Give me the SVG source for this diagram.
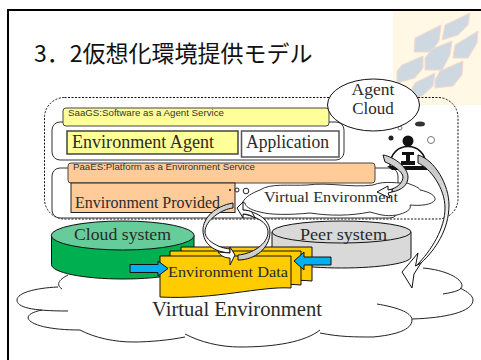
<svg xmlns="http://www.w3.org/2000/svg" width="481" height="360" viewBox="0 0 481 360">
<defs>
<filter id="soft" x="-5%" y="-5%" width="110%" height="110%"><feGaussianBlur stdDeviation="0.5"/></filter>
<linearGradient id="gr" gradientUnits="userSpaceOnUse" x1="0" y1="170" x2="0" y2="235"><stop offset="0" stop-color="#c8c8c8"/><stop offset="1" stop-color="#fff"/></linearGradient>
<linearGradient id="gl" gradientUnits="userSpaceOnUse" x1="0" y1="203" x2="0" y2="245"><stop offset="0" stop-color="#c8c8c8"/><stop offset="1" stop-color="#fff"/></linearGradient>
<linearGradient id="gb" gradientUnits="userSpaceOnUse" x1="0" y1="258" x2="0" y2="215"><stop offset="0" stop-color="#c8c8c8"/><stop offset="1" stop-color="#fff"/></linearGradient>
</defs>
<style>
.s{font-family:"Liberation Serif","DejaVu Serif",serif;fill:#2a2a2a}
.g{font-family:"Liberation Sans",Arial,sans-serif;fill:#333;font-size:9.500px}
.hex{fill:#cdd8e0;stroke:#f7d8cc;stroke-width:1}
.o{stroke:#333;stroke-width:1;fill:#fff}
.l{fill:none;stroke:#222;stroke-width:1}
.band{stroke:#111;stroke-width:1}
.head{fill:#fff;stroke:#111;stroke-width:1}
.page{fill:#ffcc00;stroke:#111;stroke-width:1}
.blue{fill:#00b0f0;stroke:#111;stroke-width:1}
</style>
<rect width="481" height="360" fill="#fff"/>
<g id="backdrop">
<rect x="393" y="10" width="88" height="95" fill="#fff8e4"/>
<g filter="url(#soft)">
<polygon class="hex" points="415,38 441,25 439,41 431,52 414,52"/>
<polygon class="hex" points="445,25 470,13 468,25 458,35 442,40"/>
<polygon class="hex" points="455,45 478,31 477,43 468,58 453,58"/>
<polygon class="hex" points="432,49 452,41 450,55 442,70 425,70 425,58"/>
<polygon class="hex" points="402,65 423,56 423,68 415,78 397,83 397,71"/>
<polygon class="hex" points="440,71 463,61 462,75 453,86 435,88 435,80"/>
<polygon class="hex" points="415,83 435,73 433,86 422,96 407,98"/>
</g>
<path d="M8 360V10H481" fill="none" stroke="#000" stroke-width="2"/>
<text x="34" y="62" font-size="23" fill="#111" font-family="'Noto Sans CJK JP','Liberation Sans',sans-serif">3．2仮想化環境提供モデル</text>
</g>
<g id="virtual-environment-large">
<path d="M68 275C58 280 56 285 62 289C30 290 10 300 17 303C20 310 30 311 42 311C30 312 24 318 30 322C40 328 60 330 80 330C95 338 115 342 133 342C150 342 170 340 185 334C200 342 220 347 240 347C275 347 305 342 320 330C340 337 355 337 373 337C395 335 412 330 412 320C435 320 473 312 473 300C473 295 465 290 460 288C462 278 445 270 423 268C400 260 150 265 68 275Z" fill="#fff" stroke="none"/>
<path class="l" d="M68 275C58 280 56 285 62 289"/>
<path class="l" d="M58 287C35 288 17 293 17 300C17 307 30 311 68 311"/>
<path class="l" d="M42 310C32 312 28 315 28 318C30 325 50 330 80 330"/>
<path class="l" d="M80 330C95 338 115 342 133 342C150 342 170 340 185 337"/>
<path class="l" d="M185 334C200 342 220 347 240 347C275 347 305 342 320 330"/>
<path class="l" d="M320 333C340 337 355 337 373 337C395 335 412 330 412 320C412 312 395 307 377 304"/>
<path class="l" d="M412 319C445 318 473 312 473 300C473 296 468 292 460 288"/>
<path class="l" d="M443 294C455 292 462 290 462 286C462 278 445 270 423 268"/>
<text class="s" x="152" y="316" font-size="20" textLength="170" lengthAdjust="spacingAndGlyphs">Virtual Environment</text>
</g>
<g id="agent-cloud-group">
<rect x="44.500" y="97.500" width="413.500" height="121.500" rx="20" fill="none" stroke="#111" stroke-width="1" stroke-dasharray="2 1.500"/>
</g>
<g id="saas">
<rect x="52" y="122" width="292" height="38" rx="8" class="o"/>
<rect x="63" y="108" width="266" height="18" rx="3" fill="#ffff99" stroke="#444"/>
<text class="g" x="68" y="116" textLength="156" lengthAdjust="spacingAndGlyphs">SaaGS:Software as a Agent Service</text>
<rect id="environment-agent" x="67" y="131" width="171" height="23" fill="#ffff99" stroke="#444" stroke-width="1.500"/>
<text class="s" x="72" y="148" font-size="19" textLength="142" lengthAdjust="spacingAndGlyphs">Environment Agent</text>
<rect id="application" x="241.500" y="131" width="97.500" height="26" fill="#fff" stroke="#555" stroke-width="1.500"/>
<text class="s" x="246" y="148" font-size="18" textLength="83" lengthAdjust="spacingAndGlyphs">Application</text>
</g>
<g id="paas">
<rect x="52" y="168" width="346" height="50" rx="8" class="o"/>
<rect x="68" y="163" width="307" height="20" rx="3" fill="#ffcc99" stroke="#444"/>
<text class="g" x="73" y="170" textLength="182" lengthAdjust="spacingAndGlyphs">PaaES:Platform as a Environment Service</text>
<rect id="environment-provided" x="71" y="183" width="164" height="29.500" fill="#ffcc99" stroke="#222"/>
<text class="s" x="75" y="208" font-size="16" textLength="145" lengthAdjust="spacingAndGlyphs">Environment Provided</text>
</g>
<g id="virtual-environment-small">
<path class="o" d="M260 190C270 183 290 186 307 185C330 182 350 188 373 185C385 180 400 184 407 183C415 186 420 188 420 190C430 192 436 196 435 200C432 205 420 206 410 205C412 210 405 213 397 215C385 217 378 214 370 212C350 216 330 216 310 213C290 215 270 215 260 212C250 210 245 206 245 203C243 203 243 201 243 202C245 197 252 193 260 190Z"/>
<text class="s" x="264" y="202" font-size="15.500" textLength="134" lengthAdjust="spacingAndGlyphs">Virtual Environment</text>
<circle cx="230" cy="190" r="1" fill="#111"/>
<circle cx="237" cy="190" r="2" fill="#fff" stroke="#222"/>
<circle cx="246" cy="191" r="2.800" fill="#fff" stroke="#222"/>
</g>
<g id="cloud-system">
<path d="M51.500 235.500V264.500C51.500 272.500 83 279 123 279S194 272.500 194 264.500V235.500Z" fill="#00b050" stroke="#111"/>
<ellipse cx="122.700" cy="235.500" rx="71.500" ry="14.500" fill="#66cc99" stroke="#111"/>
<text class="s" x="74" y="240" font-size="17.500" textLength="97" lengthAdjust="spacingAndGlyphs">Cloud system</text>
</g>
<g id="peer-system">
<path d="M272 232V257C272 263 303 268 341.500 268S411 263 411 257V232Z" fill="#d9d9d9" stroke="#111"/>
<ellipse cx="341.500" cy="232" rx="69.500" ry="11" fill="#d9d9d9" stroke="#111"/>
<text class="s" x="300" y="240" font-size="17" textLength="87" lengthAdjust="spacingAndGlyphs">Peer system</text>
</g>
<g id="environment-data">
<path class="page" d="M181 247H312V281C280 278 240 286 181 281Z"/>
<path class="page" d="M170 251H301V285C270 282 230 291 170 285Z"/>
<path class="page" d="M160 256H291V288C260 286 215 300 160 297Z"/>
<text class="s" x="168" y="277" font-size="15.500" textLength="120" lengthAdjust="spacingAndGlyphs">Environment Data</text>
</g>
<g id="agent-icon">
<circle cx="408" cy="141" r="5.500" fill="#111"/>
<path d="M390 166C390 140 426 140 426 166" fill="none" stroke="#111" stroke-width="1.500"/>
<path d="M387 166H430L427 170H392Z" fill="#111"/>
<path d="M402 152H414V155H410V161H415V165H401V161H406V155H402Z" fill="#111"/>
<circle cx="391" cy="138" r="2.500" fill="#222"/>
<ellipse cx="420" cy="124" rx="5" ry="2.500" fill="#333"/>
<circle cx="431" cy="140" r="3.500" fill="#fff" stroke="#777"/>
<circle cx="400" cy="128" r="2" fill="#fff" stroke="#777"/>
</g>
<g id="agent-cloud">
<ellipse cx="373.500" cy="105" rx="46" ry="26" fill="#fff" stroke="#111"/>
<text class="s" x="373" y="95" font-size="17.500" text-anchor="middle">Agent</text>
<text class="s" x="373" y="114" font-size="17" text-anchor="middle">Cloud</text>
</g>
<g id="connectors">
<path class="blue" d="M130 264.500H158V261L168 268.500L158 276V272.500H130Z"/>
<path class="blue" d="M331 257V265H304V270L294 261L304 252V257Z"/>
<path class="band" fill="url(#gl)" d="M233 203V208C222 209 205 220 205 232C205 240 218 248 230 249V253C215 252 203 245 203 230C203 218 215 206 233 203Z"/>
<path class="band" fill="url(#gb)" d="M238 255V260C255 260 270 248 270 232C270 220 258 212 243 210V214C255 216 268 222 268 232C268 244 252 254 238 255Z"/>
<path class="head" d="M230 247L235 255L230 265V258C224 258 220 255 218 252L230 253Z"/>
<path class="head" d="M243 202L237 208L243 218V214C248 214 252 216 255 218L252 212C250 211 247 210 243 210Z"/>
<path class="band" fill="#cfcfcf" d="M383 155C395 157 408 168 408 177C408 185 402 190 392 192V189C398 187 403 182 403 177C403 172 393 165 385 162Z"/>
<path class="head" d="M377 192L388 186V190L392 189V192L388 193L390 198Z"/>
<path class="band" fill="url(#gr)" d="M418 155C435 160 449 185 449 205C449 230 435 250 421 263L416 266C432 250 445 228 445 208C445 188 430 168 418 163Z"/>
<path class="head" d="M402 272L418 253L415.500 266L421 263L414 274L412 288Z"/>
</g>
</svg>
